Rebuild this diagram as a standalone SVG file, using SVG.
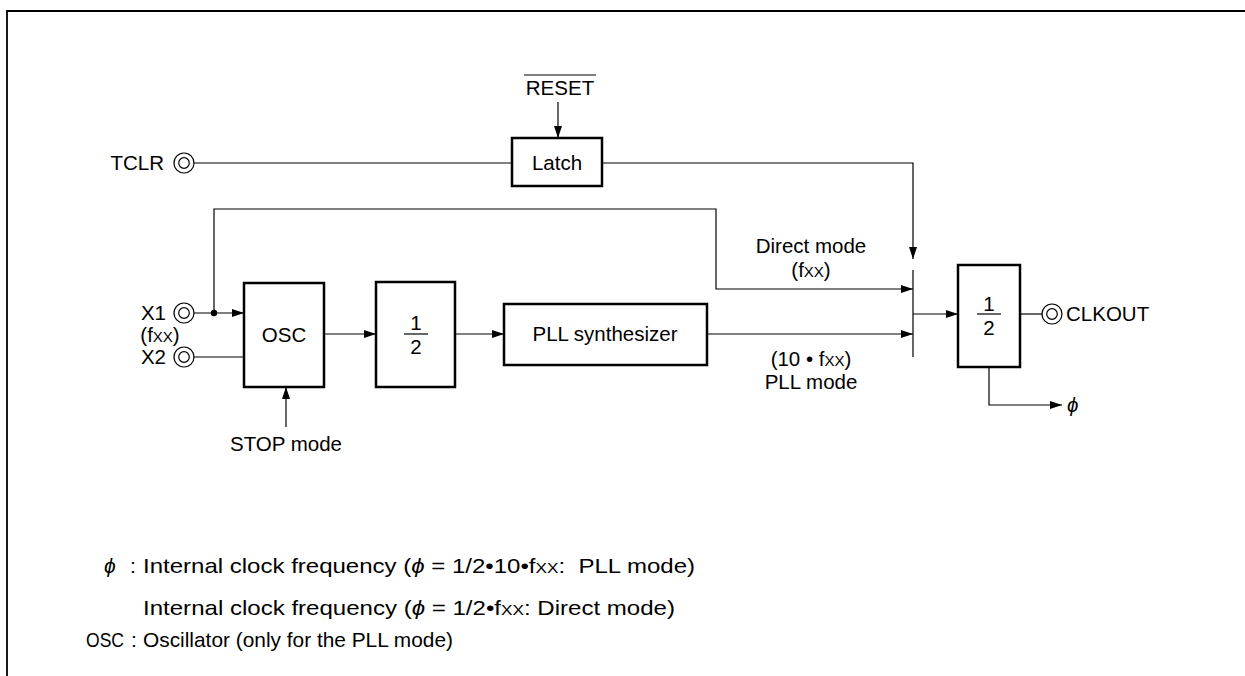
<svg xmlns="http://www.w3.org/2000/svg" width="1245" height="676" viewBox="0 0 1245 676">
<defs>
<marker id="ah" markerWidth="12" markerHeight="8" refX="12" refY="4" orient="auto" markerUnits="userSpaceOnUse">
<path d="M0,0 L12,4 L0,8 Z" fill="#000"/>
</marker>
<style>
text{font-family:"Liberation Sans",Arial,sans-serif;fill:#000;font-size:20.5px}
.box{fill:#fff;stroke:#000;stroke-width:2.5}
.ln{fill:none;stroke:#000;stroke-width:1.2}
.arr{fill:none;stroke:#000;stroke-width:1.2;marker-end:url(#ah)}
.pin{fill:#fff;stroke:#000;stroke-width:1.2}
.sm{font-size:15px}
.leg{font-size:21px}
.mid{text-anchor:middle}
.end{text-anchor:end}
</style>
</defs>
<rect width="1245" height="676" fill="#fff"/>
<path d="M7,676 V11 H1245" fill="none" stroke="#000" stroke-width="1.8"/>

<g id="connectors">
<path class="ln" d="M194,163 H512"/>
<path class="arr" d="M558,102 V138"/>
<path class="arr" d="M602,163 H913 V259"/>
<path class="ln" d="M913,270 V357"/>
<path class="arr" d="M194,313 H244"/>
<path class="ln" d="M194,357 H244"/>
<path class="arr" d="M214,313 V209 H716 V289 H913"/>
<circle cx="214" cy="313" r="3.2" fill="#000"/>
<path class="arr" d="M286,427 V387"/>
<path class="arr" d="M324,334 H376"/>
<path class="arr" d="M455,334 H504"/>
<path class="arr" d="M707,334 H913"/>
<path class="arr" d="M913,314 H958"/>
<path class="ln" d="M1020,314 H1042"/>
<path class="arr" d="M989,367 V405 H1062"/>
</g>

<g id="tclr">
<text class="end" x="164" y="170">TCLR</text>
<circle class="pin" cx="184" cy="163" r="10"/>
<circle class="pin" cx="184" cy="163" r="5.3"/>
</g>

<g id="reset">
<text class="mid" x="560" y="95">RESET</text>
<path class="ln" d="M524,75 H596"/>
</g>

<g id="latch">
<rect class="box" x="512" y="138" width="90" height="48"/>
<text class="mid" x="557" y="170">Latch</text>
</g>

<g id="x1">
<text class="end" x="166" y="320">X1</text>
<text class="mid" x="160" y="342">(f<tspan class="sm">XX</tspan>)</text>
<circle class="pin" cx="184" cy="313" r="10"/>
<circle class="pin" cx="184" cy="313" r="5.3"/>
</g>

<g id="x2">
<text class="end" x="166" y="364">X2</text>
<circle class="pin" cx="184" cy="357" r="10"/>
<circle class="pin" cx="184" cy="357" r="5.3"/>
</g>

<g id="osc">
<rect class="box" x="244" y="283" width="80" height="104"/>
<text class="mid" x="284" y="342">OSC</text>
</g>

<g id="stop">
<text class="mid" x="286" y="451">STOP mode</text>
</g>

<g id="div1">
<rect class="box" x="376" y="282" width="79" height="105"/>
<text class="mid" x="416" y="330" font-size="19">1</text>
<path class="ln" d="M404,334 H428"/>
<text class="mid" x="416" y="354" font-size="19">2</text>
</g>

<g id="pll">
<rect class="box" x="504" y="304" width="203" height="61"/>
<text class="mid" x="605" y="341">PLL synthesizer</text>
</g>

<g id="labels">
<text class="mid" x="811" y="253">Direct mode</text>
<text class="mid" x="811" y="277">(f<tspan class="sm">XX</tspan>)</text>
<text class="mid" x="811" y="366">(10 • f<tspan class="sm">XX</tspan>)</text>
<text class="mid" x="811" y="389">PLL mode</text>
</g>

<g id="div2">
<rect class="box" x="958" y="265" width="62" height="102"/>
<text class="mid" x="989" y="311" font-size="19">1</text>
<path class="ln" d="M977,314 H1001"/>
<text class="mid" x="989" y="335" font-size="19">2</text>
</g>

<g id="clkout">
<circle class="pin" cx="1052" cy="314" r="10"/>
<circle class="pin" cx="1052" cy="314" r="5.3"/>
<text x="1066" y="321">CLKOUT</text>
</g>

<g id="phi">
<text x="1067" y="412" font-style="italic">ϕ</text>
</g>

<g id="legend">
<text class="leg" x="104" y="573" font-style="italic">ϕ</text>
<text class="leg" x="130" y="573">:</text>
<text class="leg" x="143" y="573" xml:space="preserve" textLength="552" lengthAdjust="spacingAndGlyphs">Internal clock frequency (<tspan font-style="italic">ϕ</tspan> = 1/2•10•f<tspan class="sm">XX</tspan>:  PLL mode)</text>
<text class="leg" x="143" y="615" textLength="532" lengthAdjust="spacingAndGlyphs">Internal clock frequency (<tspan font-style="italic">ϕ</tspan> = 1/2•f<tspan class="sm">XX</tspan>: Direct mode)</text>
<text class="leg" x="86" y="647" textLength="38" lengthAdjust="spacingAndGlyphs">OSC</text>
<text class="leg" x="131" y="647">:</text>
<text class="leg" x="143" y="647" textLength="310" lengthAdjust="spacingAndGlyphs">Oscillator (only for the PLL mode)</text>
</g>
</svg>
